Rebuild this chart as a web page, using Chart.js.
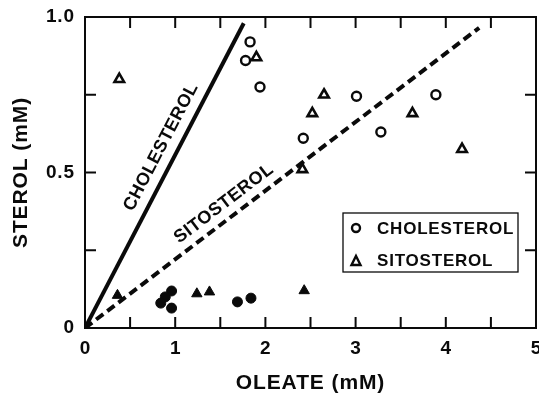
<!DOCTYPE html>
<html>
<head>
<meta charset="utf-8">
<script src="https://cdn.jsdelivr.net/npm/chart.js@4/dist/chart.umd.min.js"></script>
<style>
  html, body { margin: 0; padding: 0; background: #fff; }
  #c { display: block; }
</style>
</head>
<body>
<canvas id="c" width="539" height="399"></canvas>
<script>
// ---- data ----
const cholOpenX = [1.83, 1.78, 1.94, 2.42, 3.01, 3.28, 3.89];
const cholOpenY = [0.92, 0.86, 0.775, 0.61, 0.745, 0.63, 0.75];
const sitoOpenX = [0.38, 1.90, 2.41, 2.52, 2.65, 3.63, 4.18];
const sitoOpenY = [0.80, 0.87, 0.51, 0.69, 0.75, 0.69, 0.575];
const cholFilledX = [0.96, 0.89, 0.84, 0.96, 1.69, 1.84];
const cholFilledY = [0.119, 0.10, 0.08, 0.064, 0.084, 0.096];
const sitoFilledX = [0.36, 1.24, 1.38, 2.43];
const sitoFilledY = [0.105, 0.11, 0.116, 0.12];
const cholLineX = [0, 1.76];
const cholLineY = [0, 0.98];
const sitoLineX = [0, 4.37];
const sitoLineY = [0, 0.965];
const xTickValues = [0, 1, 2, 3, 4, 5];
const xTickLabels = ['0', '1', '2', '3', '4', '5'];
const yTickValues = [0, 0.5, 1];
const yTickLabels = ['0', '0.5', '1.0'];
const legendLabels = ['CHOLESTEROL', 'SITOSTEROL'];
const lineLabels = ['CHOLESTEROL', 'SITOSTEROL'];
const lineLabelAt = [[0.844, 0.582], [1.54, 0.40]];

const zip = (xs, ys) => xs.map((x, i) => ({ x: x, y: ys[i] }));
const INK = '#0a0a0a';
const FONT = '"Liberation Sans", Arial, sans-serif';

const decor = {
  id: 'decor',
  beforeDraw(chart) {
    chart.ctx.letterSpacing = '0.9px';
  },
  afterDraw(chart) {
    const ctx = chart.ctx;
    const a = chart.chartArea;
    const xs = chart.scales.x, ys = chart.scales.y;
    ctx.save();
    ctx.strokeStyle = INK;
    ctx.fillStyle = INK;
    // frame
    ctx.lineWidth = 2;
    ctx.strokeRect(a.left, a.top, a.right - a.left, a.bottom - a.top);
    // inward ticks
    const tl = 11;
    ctx.beginPath();
    for (let v = 0.5; v < 5; v += 0.5) {
      const px = xs.getPixelForValue(v);
      ctx.moveTo(px, a.bottom); ctx.lineTo(px, a.bottom - tl);
      ctx.moveTo(px, a.top); ctx.lineTo(px, a.top + tl);
    }
    for (let v = 0.25; v < 1; v += 0.25) {
      const py = ys.getPixelForValue(v);
      ctx.moveTo(a.left, py); ctx.lineTo(a.left + tl, py);
      ctx.moveTo(a.right, py); ctx.lineTo(a.right - tl, py);
    }
    ctx.stroke();

    // x tick labels, placed by the x scale
    ctx.font = 'bold 19px ' + FONT;
    ctx.textAlign = 'center';
    ctx.textBaseline = 'middle';
    ctx.letterSpacing = '0px';
    xTickValues.forEach((v, i) => {
      ctx.fillText(xTickLabels[i], xs.getPixelForValue(v), a.bottom + 21);
    });

    // rotated line labels
    ctx.font = 'bold 18px ' + FONT;
    ctx.letterSpacing = '0.5px';
    const fits = [[cholLineX, cholLineY], [sitoLineX, sitoLineY]];
    fits.forEach((f, i) => {
      const x0 = xs.getPixelForValue(f[0][0]), y0 = ys.getPixelForValue(f[1][0]);
      const x1 = xs.getPixelForValue(f[0][1]), y1 = ys.getPixelForValue(f[1][1]);
      const ang = Math.atan2(y1 - y0, x1 - x0);
      const cx = xs.getPixelForValue(lineLabelAt[i][0]);
      const cy = ys.getPixelForValue(lineLabelAt[i][1]);
      ctx.save();
      ctx.translate(cx, cy);
      ctx.rotate(ang);
      ctx.fillText(lineLabels[i], 0, 0);
      ctx.restore();
    });

    // legend box
    const bx = a.right - 193, by = a.top + 196, bw = 175, bh = 59;
    ctx.lineWidth = 1.3;
    ctx.strokeRect(bx, by, bw, bh);
    ctx.textAlign = 'left';
    ctx.font = 'bold 17px ' + FONT;
    ctx.letterSpacing = '0.8px';
    // circle marker
    ctx.lineWidth = 2.4;
    ctx.beginPath();
    ctx.arc(bx + 13, by + 15, 4, 0, Math.PI * 2);
    ctx.stroke();
    ctx.fillText(legendLabels[0], bx + 34, by + 16);
    // triangle marker
    ctx.beginPath();
    const tx = bx + 13, ty = by + 48;
    ctx.moveTo(tx, ty - 5);
    ctx.lineTo(tx + 4.5, ty + 4);
    ctx.lineTo(tx - 4.5, ty + 4);
    ctx.closePath();
    ctx.stroke();
    ctx.fillText(legendLabels[1], bx + 34, by + 48);
    ctx.restore();
  }
};

const tickFont = { family: FONT, size: 19, weight: 'bold' };
const titleFont = { family: FONT, size: 21, weight: 'bold' };

new Chart(document.getElementById('c'), {
  type: 'scatter',
  data: {
    datasets: [
      { label: 'Cholesterol', data: zip(cholOpenX, cholOpenY), pointStyle: 'circle',
        pointRadius: 4.5, borderWidth: 2.4, borderColor: INK, backgroundColor: '#fff' },
      { label: 'Sitosterol', data: zip(sitoOpenX, sitoOpenY), pointStyle: 'triangle',
        pointRadius: 5.5, borderWidth: 2.6, borderColor: INK, backgroundColor: '#fff' },
      { label: 'Cholesterol (filled)', data: zip(cholFilledX, cholFilledY), pointStyle: 'circle',
        pointRadius: 5, borderWidth: 1, borderColor: INK, backgroundColor: INK },
      { label: 'Sitosterol (filled)', data: zip(sitoFilledX, sitoFilledY), pointStyle: 'triangle',
        pointRadius: 6, borderWidth: 1, borderColor: INK, backgroundColor: INK },
      { type: 'line', label: 'Cholesterol line', data: zip(cholLineX, cholLineY),
        borderColor: INK, borderWidth: 4, pointRadius: 0, fill: false, borderCapStyle: 'butt' },
      { type: 'line', label: 'Sitosterol line', data: zip(sitoLineX, sitoLineY),
        borderColor: INK, borderWidth: 4, borderDash: [9, 5], pointRadius: 0, fill: false,
        borderCapStyle: 'butt' }
    ]
  },
  options: {
    responsive: false,
    animation: false,
    devicePixelRatio: 1,
    layout: { autoPadding: false, padding: { top: 17, right: 3, left: 0, bottom: 0 } },
    plugins: { legend: { display: false }, tooltip: { enabled: false } },
    scales: {
      x: {
        type: 'linear', min: 0, max: 5,
        ticks: { display: false, stepSize: 0.5 },
        grid: { display: false, drawTicks: false },
        border: { display: false },
        title: { display: true, text: 'OLEATE (mM)', color: INK, font: titleFont,
                 padding: { top: 0, bottom: 3 } },
        afterFit(s) { s.height = 71; s.paddingLeft = 0; s.paddingRight = 0; }
      },
      y: {
        type: 'linear', min: 0, max: 1,
        ticks: {
          stepSize: 0.25, autoSkip: false, padding: 10,
          color: INK, font: tickFont,
          callback: v => { const i = yTickValues.indexOf(v); return i >= 0 ? yTickLabels[i] : ''; }
        },
        grid: { display: false, drawTicks: false },
        border: { display: false },
        title: { display: true, text: 'STEROL (mM)', color: INK, font: titleFont,
                 padding: { top: 9, bottom: 0 } },
        afterFit(s) { s.width = 85; s.paddingTop = 0; s.paddingBottom = 0; }
      }
    }
  },
  plugins: [decor]
});
</script>
</body>
</html>
